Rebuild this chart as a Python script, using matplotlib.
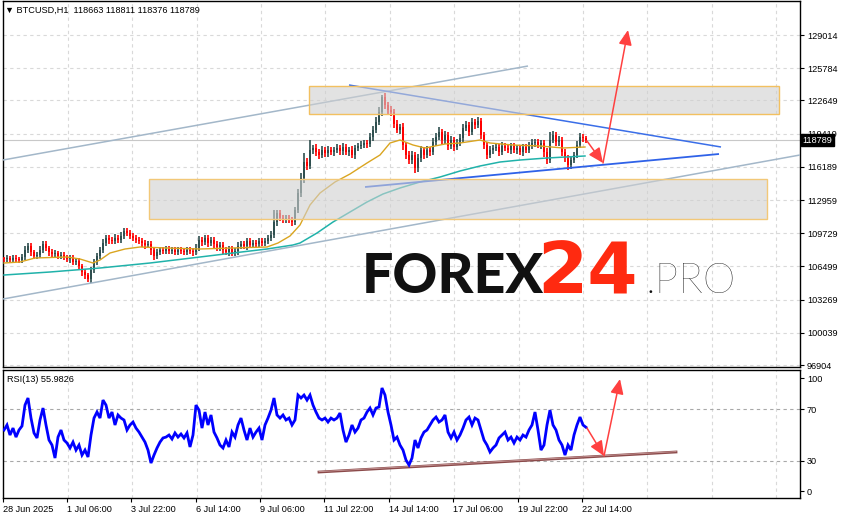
import numpy as np
import matplotlib
matplotlib.use("Agg")
import matplotlib.pyplot as plt
from matplotlib.patches import Rectangle
from matplotlib.transforms import blended_transform_factory as btf

# ---------------- data ----------------
symbol_label = "\u25bc BTCUSD,H1  118663 118811 118376 118789"
rsi_label = "RSI(13) 55.9826"
last_price = 118789
first_open = 107220

# closes of 3-hour groups of H1 bars
close = [107219, 107317, 107122, 107317, 107219, 107122, 107414, 108095,
         108484, 107900, 107511, 107609, 108095, 108679, 108290, 107900,
         107706, 107803, 107511, 107609, 107414, 107219, 107317, 106927,
         107025, 106538, 105954, 105663, 105274, 106149, 106927, 107511,
         108095, 108776, 109263, 109068, 108971, 109263, 109068, 109457,
         109944, 109749, 109457, 109263, 109068, 108971, 108776, 108581,
         108679, 108095, 107511, 107900, 108095, 107998, 108192, 107998,
         108095, 107900, 108095, 107998, 107900, 108095, 107998, 107900,
         108290, 109068, 108873, 109263, 108776, 109068, 108679, 108387,
         108581, 108095, 107900, 108192, 107803, 107998, 108484, 108679,
         108484, 108971, 108581, 108776, 108679, 108971, 108776, 108971,
         109263, 109555, 110819, 111695, 111209, 111111, 111209, 111014,
         110819, 111987, 113641, 115101, 116657, 116268, 117825, 118020,
         117630, 117339, 117825, 117533, 117825, 117630, 117825, 118020,
         117728, 118117, 117630, 117825, 117339, 118020, 118214, 118312,
         118506, 118409, 119090, 119771, 120549, 121522, 122982, 122203,
         121717, 121522, 120355, 119771, 120063, 118312, 117339, 116852,
         117339, 116074, 117047, 117825, 117339, 117825, 117630, 118603,
         119090, 119576, 118798, 119284, 118214, 118798, 118117, 118506,
         118993, 119966, 120257, 119576, 120549, 120257, 120647, 119284,
         118312, 117339, 117825, 118020, 118117, 117630, 118214, 118020,
         117825, 118214, 117825, 118020, 117630, 118117, 117825, 118214,
         118506, 118603, 118312, 118506, 117630, 116852, 118798, 119284,
         118603, 118798, 117630, 117047, 116365, 116852, 117339, 118312,
         119090, 118993, 118789]

# upper / lower shadow lengths of each group (price units)
wick_up = [200, 300, 200, 250, 300, 200, 250, 400,
           300, 250, 200, 300, 350, 300, 250, 200,
           250, 300, 200, 250, 300, 200, 250, 300,
           250, 300, 200, 250, 200, 300, 250, 300,
           300, 400, 300, 250, 300, 350, 300, 400,
           300, 250, 300, 250, 300, 250, 300, 250,
           300, 250, 300, 300, 250, 300, 250, 300,
           250, 300, 250, 300, 250, 300, 250, 300,
           350, 400, 300, 300, 250, 300, 250, 300,
           250, 300, 250, 300, 250, 300, 350, 250,
           300, 300, 250, 300, 250, 300, 250, 300,
           300, 400, 1200, 300, 250, 300, 250, 300,
           250, 300, 400, 500, 900, 400, 1000, 300,
           350, 300, 400, 300, 350, 300, 300, 350,
           300, 350, 300, 300, 350, 300, 300, 350,
           300, 300, 400, 400, 500, 500, 200, 400,
           300, 400, 300, 350, 300, 400, 300, 350,
           400, 300, 350, 400, 300, 350, 300, 400,
           400, 500, 300, 400, 300, 350, 300, 350,
           350, 400, 400, 300, 400, 300, 400, 300,
           300, 300, 350, 300, 300, 300, 350, 300,
           300, 300, 300, 300, 300, 300, 300, 350,
           350, 300, 300, 300, 300, 400, 800, 350,
           300, 350, 300, 300, 300, 350, 300, 400,
           400, 300, 200]
wick_dn = [300, 250, 300, 200, 250, 300, 250, 300,
           250, 350, 300, 250, 300, 250, 300, 350,
           300, 250, 300, 250, 300, 300, 350, 300,
           300, 350, 400, 350, 300, 350, 300, 300,
           300, 250, 300, 400, 300, 250, 300, 300,
           250, 300, 300, 250, 300, 300, 350, 400,
           300, 500, 400, 300, 250, 300, 300, 250,
           300, 250, 300, 250, 300, 250, 300, 350,
           300, 300, 400, 300, 350, 300, 400, 350,
           400, 350, 300, 400, 300, 300, 350, 300,
           300, 400, 300, 300, 350, 300, 300, 300,
           300, 300, 300, 400, 300, 350, 400, 300,
           400, 300, 300, 400, 500, 400, 300, 350,
           350, 400, 300, 400, 350, 300, 400, 300,
           400, 350, 300, 400, 300, 350, 300, 300,
           300, 350, 300, 400, 300, 300, 400, 350,
           400, 350, 400, 300, 400, 500, 400, 400,
           400, 500, 350, 400, 350, 300, 400, 300,
           350, 300, 400, 350, 400, 300, 350, 300,
           300, 350, 300, 400, 300, 350, 300, 400,
           400, 350, 300, 350, 300, 350, 300, 300,
           300, 350, 300, 350, 300, 350, 300, 300,
           300, 350, 300, 400, 500, 400, 300, 300,
           350, 400, 350, 400, 500, 350, 300, 300,
           300, 400, 250]

rsi = [53.9, 57.8, 50.0, 55.4, 48.4, 53.9, 57.0, 73.3,
       78.8, 63.2, 51.6, 47.7, 61.7, 71.0, 57.8, 46.1,
       42.2, 32.1, 48.4, 53.9, 46.1, 43.8, 39.9, 44.5,
       38.3, 42.2, 34.4, 38.3, 32.9, 50.0, 63.2, 67.9,
       63.2, 77.2, 73.3, 63.2, 67.9, 57.8, 65.6, 63.2,
       61.7, 53.9, 57.8, 60.1, 55.4, 52.3, 48.4, 44.5,
       38.3, 28.2, 34.4, 39.9, 44.5, 47.7, 48.4, 50.0,
       46.9, 51.6, 48.4, 50.8, 47.7, 51.6, 40.7, 50.0,
       73.3, 69.4, 55.4, 67.9, 57.8, 65.6, 52.3, 47.7,
       42.2, 39.9, 46.1, 40.7, 52.3, 48.4, 57.8, 63.2,
       53.9, 46.1, 55.4, 48.4, 52.3, 55.4, 46.1, 57.8,
       63.2, 69.4, 78.8, 65.6, 63.2, 65.6, 61.7, 63.2,
       57.8, 61.7, 81.1, 78.8, 81.1, 77.2, 81.1, 73.3,
       67.9, 63.2, 61.7, 63.2, 60.1, 63.2, 61.7, 63.2,
       67.1, 53.9, 44.5, 50.0, 57.8, 52.3, 55.4, 61.7,
       63.2, 67.9, 71.0, 65.6, 71.0, 71.8, 86.6, 81.1,
       67.9, 57.8, 46.1, 48.4, 42.2, 38.3, 30.5, 26.7,
       32.1, 46.1, 39.9, 47.7, 52.3, 53.9, 57.8, 61.7,
       64.0, 60.1, 61.7, 65.6, 52.3, 47.7, 52.3, 46.1,
       50.0, 55.4, 61.7, 64.0, 57.8, 63.2, 61.7, 53.9,
       46.1, 42.2, 36.8, 39.9, 42.2, 47.7, 50.0, 52.3,
       46.1, 48.4, 43.8, 48.4, 46.1, 50.0, 48.4, 53.9,
       57.8, 67.9, 53.9, 38.3, 42.2, 57.8, 69.4, 57.8,
       53.9, 46.1, 42.2, 34.4, 42.2, 38.3, 50.0, 57.8,
       64.0, 57.8, 56.0]

ma_fast_t = [1, 17, 32, 64, 77, 90, 97, 107, 122, 137, 164, 197, 230, 264, 275,
             287, 297, 307, 317, 332, 347, 364, 377, 387, 397, 410, 422, 442,
             457, 477, 487, 510, 537, 560, 582]
ma_fast = [106830, 106927, 107317, 107414, 107219, 106830, 107122, 107803,
           108192, 108387, 108290, 108192, 108290, 108387, 108776, 109457,
           110528, 112474, 113641, 114711, 115490, 116560, 117339, 118506,
           118798, 118312, 118020, 118409, 118506, 118798, 118506, 118312,
           118214, 118020, 118117]
ma_slow_t = [1, 47, 97, 147, 197, 230, 264, 290, 297, 314, 330, 347, 364, 380,
             397, 417, 437, 457, 477, 497, 517, 544, 582]
ma_slow = [105662, 105954, 106344, 106830, 107414, 107803, 108192, 108581,
           108776, 109749, 110819, 111792, 112765, 113544, 114128, 114711,
           115196, 115782, 116268, 116657, 116852, 117047, 117242]

price_ticks = [129014, 125784, 122649, 119419, 116189, 112959, 109729,
               106499, 103269, 100039, 96904]
rsi_levels = [70, 30]
date_labels = ["28 Jun 2025", "1 Jul 06:00", "3 Jul 22:00", "6 Jul 14:00",
               "9 Jul 06:00", "11 Jul 22:00", "14 Jul 14:00", "17 Jul 06:00",
               "19 Jul 22:00", "22 Jul 14:00"]

# analyst drawings (time slot, price)
channel_upper = [(0, 116852), (525, 125998)]
channel_lower = [(0, 103327), (797, 117339)]
wedge_upper = [(346, 124150), (718, 118117)]
wedge_lower = [(362, 114225), (716, 117436)]
zone_upper = (306, 776, 121328, 124052)
zone_lower = (146, 764, 111111, 115003)
price_arrows = [((584, 118701), (600, 116560)), ((600, 116560), (625, 129501))]
rsi_trend = [(316, 21.2), (673, 36.8)]
rsi_arrows = [((584, 55.4), (601, 33.7)), ((601, 33.7), (617, 93.6))]

# ---------------- figure ----------------
W, H = 845, 519
fig = plt.figure(figsize=(W / 100, H / 100), dpi=100)
fig.patch.set_facecolor("white")


def box(x0, y0, x1, y1):
    return [x0 / W, 1 - y1 / H, (x1 - x0) / W, (y1 - y0) / H]


ax = fig.add_axes(box(3, 1, 800, 367))
axr = fig.add_axes(box(3, 370, 800, 498))
small = dict(family=["Liberation Sans", "DejaVu Sans"], size=6.6)

grid_slots = 65 + 64.36 * np.arange(12)
for a in (ax, axr):
    a.set_xlim(0, 797)
    for s in a.spines.values():
        s.set_linewidth(1.0)
        s.set_color("black")
    for g in grid_slots:
        a.axvline(g, color="#d9d9d9", lw=0.8, ls=(0, (3, 3)), zorder=0)

ax.set_ylim(96711, 132323)
for p in price_ticks:
    ax.axhline(p, color="#d9d9d9", lw=0.8, ls=(0, (3, 3)), zorder=0)

# bid line
ax.axhline(last_price, color="#c8c8c8", lw=0.8, zorder=1)

# candles
t = 1 + 3 * np.arange(len(close))
c = np.array(close, dtype=float)
o = np.concatenate([[first_open], c[:-1]])
lo = np.minimum(o, c)
hi = np.maximum(o, c)
height = np.maximum(hi - lo, 80)
cols = np.where(c >= o, "#2f4f4f", "#ff0000")
ax.vlines(t, lo - np.array(wick_dn), hi + np.array(wick_up), colors=cols,
          lw=1.2, zorder=3)
ax.bar(t, height, bottom=lo, width=2.8, color=cols, linewidth=0, zorder=3)

# moving averages
ax.plot(ma_fast_t, ma_fast, color="#daa520", lw=1.0, zorder=4)
ax.plot(ma_slow_t, ma_slow, color="#20b2aa", lw=1.1, zorder=4)

# trend lines
for seg, col, lw in ((channel_upper, "#a3b7c9", 1.1), (channel_lower, "#a3b7c9", 1.1),
                     (wedge_upper, "#3a6ee8", 1.1), (wedge_lower, "#2f62e8", 1.3)):
    ax.plot([seg[0][0], seg[1][0]], [seg[0][1], seg[1][1]], color=col, lw=lw,
            zorder=5, solid_capstyle="butt")

# zones drawn over the price with transparency
for (x0, x1, y0, y1), ec in ((zone_upper, "#f2c060"), (zone_lower, "#f2c878")):
    ax.add_patch(Rectangle((x0, y0), x1 - x0, y1 - y0, facecolor="#d0d0d0",
                           alpha=0.6, edgecolor="none", zorder=6))
    ax.add_patch(Rectangle((x0, y0), x1 - x0, y1 - y0, facecolor="none",
                           edgecolor=ec, lw=1.0, zorder=6))

# arrows
for (a0, a1) in price_arrows:
    ax.annotate("", xy=a1, xytext=a0,
                arrowprops=dict(arrowstyle="-|>,head_length=0.9,head_width=0.4",
                                color="#ff4040", lw=1.1, shrinkA=0, shrinkB=0),
                zorder=7)

# price axis
ax.yaxis.tick_right()
ax.set_yticks(price_ticks)
ax.set_yticklabels([str(p) for p in price_ticks], **small)
ax.tick_params(axis="y", direction="out", length=3, width=0.8, pad=2)
ax.set_xticks([])

ax.text(1.003, last_price, str(last_price), transform=btf(ax.transAxes, ax.transData),
        color="white", ha="left", va="center", zorder=10, clip_on=False,
        bbox=dict(boxstyle="square,pad=0.2", fc="black", ec="black"), **small)

# ---------------- RSI ----------------
axr.set_ylim(1.0, 100.6)
for lv in rsi_levels:
    axr.axhline(lv, color="#a8a8a8", lw=0.8, ls=(0, (3, 3)), zorder=1)
axr.plot(t, rsi, color="#0000ff", lw=2.0, zorder=4, solid_joinstyle="miter")
axr.plot([rsi_trend[0][0], rsi_trend[1][0]], [rsi_trend[0][1], rsi_trend[1][1]],
         color="#8b4a4a", lw=2.0, zorder=3)
axr.plot([rsi_trend[0][0], rsi_trend[1][0]], [rsi_trend[0][1] + 0.3, rsi_trend[1][1] + 0.3],
         color="#c89a9a", lw=0.6, zorder=3)
for (a0, a1) in rsi_arrows:
    axr.annotate("", xy=a1, xytext=a0,
                 arrowprops=dict(arrowstyle="-|>,head_length=0.9,head_width=0.4",
                                 color="#ff4040", lw=1.1, shrinkA=0, shrinkB=0),
                 zorder=7)
axr.yaxis.tick_right()
axr.set_yticks([94.3, 70, 30, 6.4])
axr.set_yticklabels(["100", "70", "30", "0"], **small)
axr.tick_params(axis="y", direction="out", length=3, width=0.8, pad=2)

label_slots = np.concatenate([[0.5], grid_slots[:9] - 1])
axr.set_xticks(label_slots)
axr.set_xticklabels(date_labels, ha="left", **small)
axr.tick_params(axis="x", direction="out", length=3, width=0.8, pad=2)

# ---------------- texts ----------------
fig.text(5 / W, 1 - 10 / H, symbol_label, va="center", ha="left", **small)
fig.text(7 / W, 1 - 379 / H, rsi_label, va="center", ha="left", **small)

fig.text(362 / W, 1 - 293 / H, "FOREX", family=["Lato", "DejaVu Sans"],
         weight="black", size=40, color="#111111", va="baseline", ha="left")
fig.text(537 / W, 1 - 293 / H, "24", family=["DejaVu Sans"],
         weight="bold", size=52, color="#ff2a10", va="baseline", ha="left")
fig.text(646 / W, 1 - 293 / H, ".PRO", family=["Lato", "DejaVu Sans"],
         weight="light", size=30, color="#111111", va="baseline", ha="left")

fig.savefig("out.png", dpi=100)
